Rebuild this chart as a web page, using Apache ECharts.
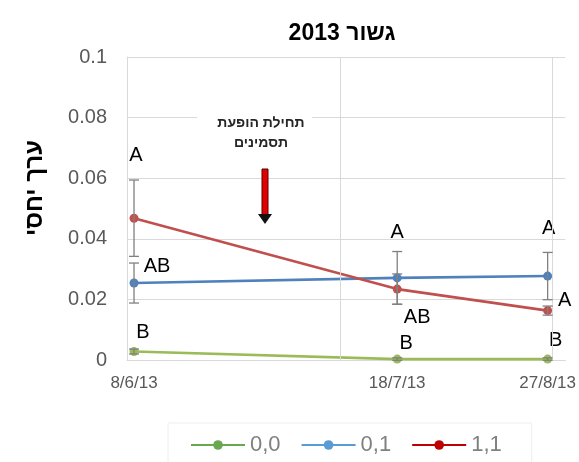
<!DOCTYPE html>
<html>
<head>
<meta charset="utf-8">
<script src="https://cdn.jsdelivr.net/npm/echarts@6/dist/echarts.min.js"></script>
<style>html,body{margin:0;padding:0;background:#fff}#c{width:579px;height:462px}</style>
</head>
<body>
<div id="c"></div>
<script>
// ---- data ----
const dates = ['8/6/13', '18/7/13', '27/8/13'];
const xPos = [0.033, 1.27, 1.977];
const seriesNames = ['0,0', '0,1', '1,1'];
const green = [0.0028, 0.0003, 0.0003];
const greenErr = [0.0008, 0.0004, 0.0004];
const blue = [0.0254, 0.0271, 0.0277];
const blueErr = [0.0066, 0.0087, 0.0078];
const red = [0.0468, 0.0234, 0.0163];
const redErr = [0.0126, 0.005, 0.0015];
const greenLetters = ['B', 'B', 'B'];
const blueLetters = ['AB', 'A', 'A'];
const redLetters = ['A', 'AB', 'A'];
const titleText = 'גשור 2013\u200F';
const yTitle = 'ערך יחסי';
const noteText = 'תחילת הופעת\nתסמינים';

const FONT = '"Liberation Sans", Arial, sans-serif';
const cGreen = '#9bbb59', cBlue = '#4f81bd', cRed = '#c0504d';

// label offsets (styling)
const offGreen = [[9, -19], [9, -16], [8, -19]];
const offBlue = [[23, -17], [0, -45], [1, -48]];
const offRed = [[2, -63], [20, 28], [17, -10]];

function lineSeries(name, vals, letters, offs, color, extra) {
  return Object.assign({
    name: name,
    type: 'line',
    symbol: 'circle',
    symbolSize: 9,
    z: 4,
    lineStyle: { color: color, width: 2.6 },
    itemStyle: { color: color },
    data: xPos.map((x, i) => ({
      value: [x, vals[i]],
      label: {
        show: true, position: 'inside', offset: offs[i],
        formatter: letters[i], color: '#000', fontSize: 20, fontFamily: FONT
      }
    }))
  }, extra || {});
}

function errSeries(vals, errs) {
  return {
    type: 'custom',
    silent: true,
    z: 5,
    encode: { x: 0, y: 1 },
    data: xPos.map((x, i) => [x, vals[i], errs[i]]),
    renderItem: function (params, api) {
      const x = api.value(0), y = api.value(1), e = api.value(2);
      const t = api.coord([x, y + e]);
      const b = api.coord([x, y - e]);
      const hw = 5;
      const st = { stroke: '#808080', lineWidth: 1.3 };
      return {
        type: 'group',
        children: [
          { type: 'line', shape: { x1: t[0], y1: t[1], x2: b[0], y2: b[1] }, style: st },
          { type: 'line', shape: { x1: t[0] - hw, y1: t[1], x2: t[0] + hw, y2: t[1] }, style: st },
          { type: 'line', shape: { x1: b[0] - hw, y1: b[1], x2: b[0] + hw, y2: b[1] }, style: st }
        ]
      };
    }
  };
}

const chart = echarts.init(document.getElementById('c'), null, { renderer: 'canvas' });
chart.setOption({
  animation: false,
  backgroundColor: '#fff',
  textStyle: { fontFamily: FONT },
  title: {
    text: titleText, left: 337, top: 17, textAlign: 'center',
    textStyle: { fontSize: 23, fontWeight: 'bold', color: '#000', fontFamily: FONT }
  },
  grid: { left: 127, right: 9, top: 57, bottom: 102, containLabel: false },
  xAxis: {
    type: 'value', min: 0, max: 2.06,
    splitLine: { show: false },
    axisLine: { show: true, lineStyle: { color: '#d9d9d9' } },
    axisTick: { show: false },
    axisLabel: {
      customValues: xPos,
      formatter: function (v) {
        const i = xPos.findIndex(p => Math.abs(p - v) < 1e-6);
        return i >= 0 ? dates[i] : '';
      },
      color: '#595959', fontSize: 17, margin: 15, fontFamily: FONT
    }
  },
  yAxis: {
    type: 'value', min: 0, max: 0.1, interval: 0.02,
    axisLine: { show: true, lineStyle: { color: '#d9d9d9' } },
    axisTick: { show: false },
    splitLine: { show: true, lineStyle: { color: '#d9d9d9', width: 1 } },
    axisLabel: { color: '#595959', fontSize: 20, margin: 20, fontFamily: FONT }
  },
  legend: {
    left: 168, top: 423,
    padding: [11, 30, 40, 22],
    borderColor: '#eeeeee', borderWidth: 1,
    itemWidth: 54, itemHeight: 12, itemGap: 20,
    textStyle: { color: '#808080', fontSize: 22, fontFamily: FONT },
    data: [
      { name: seriesNames[0], itemStyle: { color: '#6aa84f' }, lineStyle: { color: '#6aa84f' } },
      { name: seriesNames[1], itemStyle: { color: '#5b9bd5' }, lineStyle: { color: '#5b9bd5' } },
      { name: seriesNames[2], itemStyle: { color: '#c00000' }, lineStyle: { color: '#c00000' } }
    ]
  },
  graphic: [
    {
      type: 'text', x: 35, y: 188, rotation: Math.PI / 2,
      style: { text: yTitle, font: 'bold 24px ' + FONT, fill: '#000', textAlign: 'center', textVerticalAlign: 'middle' }
    },
    { type: 'rect', shape: { x: 197, y: 108, width: 115, height: 44 }, style: { fill: '#fff' }, z: 10 },
    {
      type: 'text', x: 261, y: 133, z: 11,
      style: { text: noteText, font: 'bold 14px ' + FONT, fill: '#262626', textAlign: 'center', textVerticalAlign: 'middle', lineHeight: 20 }
    },
    { type: 'rect', shape: { x: 262, y: 169, width: 6, height: 46 }, style: { fill: '#e00000', stroke: '#5a0000', lineWidth: 1 }, z: 11 },
    { type: 'polygon', shape: { points: [[258, 214], [272, 214], [265, 224]] }, style: { fill: '#111' }, z: 11 }
  ],
  series: [
    lineSeries(seriesNames[0], green, greenLetters, offGreen, cGreen, {
      markLine: {
        silent: true, symbol: 'none', label: { show: false },
        lineStyle: { color: '#d9d9d9', type: 'solid', width: 1 },
        data: [{ xAxis: 1 }, { xAxis: 2 }]
      }
    }),
    lineSeries(seriesNames[1], blue, blueLetters, offBlue, cBlue),
    lineSeries(seriesNames[2], red, redLetters, offRed, cRed),
    errSeries(green, greenErr),
    errSeries(blue, blueErr),
    errSeries(red, redErr)
  ]
});
</script>
</body>
</html>
